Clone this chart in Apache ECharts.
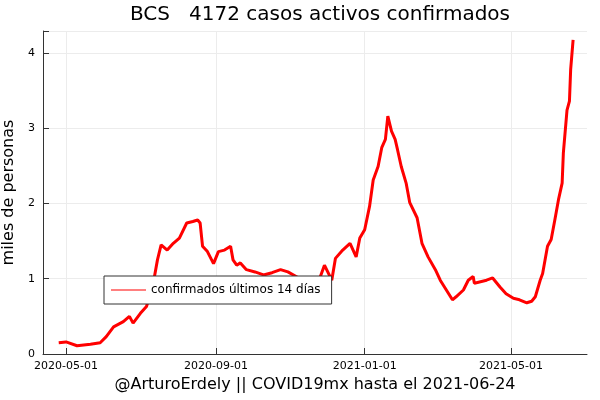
<!DOCTYPE html>
<html>
<head>
    <meta charset="utf-8">
    <title>BCS casos activos</title>
    <script src="https://cdn.jsdelivr.net/npm/echarts@6/dist/echarts.min.js"></script>
    <style>
        body { margin: 0; background: #fff; }
        #main { width: 600px; height: 400px; }
    </style>
</head>
<body>
    <div id="main"></div>
    <script type="text/javascript">
        // dias contados desde 2020-05-01 y casos activos (miles de personas)
        var dias = [-6, 0, 9, 20, 28, 33, 39, 47, 52, 55, 61, 66, 71, 75, 78, 83, 88, 93, 99, 104,
            108, 110, 112, 116, 121, 125, 130, 135, 137, 140, 143, 148, 155, 162, 169, 176, 182, 192,
            200, 208, 212, 218, 221, 227, 233, 238, 241, 245, 249, 252, 256, 259, 262, 264, 267, 270,
            272, 275, 279, 282, 288, 292, 297, 303, 307, 312, 317, 320, 326, 330, 334, 335, 340, 345,
            350, 356, 361, 367, 372, 378, 382, 385, 389, 391, 395, 398, 401, 404, 407, 408, 411, 413,
            414, 416];
        var activos = [0.15, 0.16, 0.11, 0.13, 0.15, 0.23, 0.36, 0.43, 0.50, 0.41, 0.54, 0.63, 0.89, 1.25, 1.45, 1.38, 1.47, 1.54, 1.74, 1.76,
            1.78, 1.74, 1.43, 1.36, 1.20, 1.36, 1.38, 1.43, 1.25, 1.18, 1.21, 1.12, 1.09, 1.05, 1.08, 1.12, 1.09, 1.00,
            0.98, 1.00, 1.18, 0.98, 1.27, 1.38, 1.47, 1.29, 1.54, 1.65, 1.96, 2.31, 2.49, 2.74, 2.85, 3.16, 2.96, 2.85,
            2.71, 2.49, 2.27, 2.01, 1.81, 1.47, 1.29, 1.12, 0.98, 0.85, 0.72, 0.76, 0.85, 0.98, 1.03, 0.94, 0.96, 0.98,
            1.01, 0.89, 0.80, 0.74, 0.72, 0.68, 0.70, 0.76, 0.98, 1.07, 1.43, 1.52, 1.78, 2.05, 2.27, 2.67, 3.24, 3.36,
            3.78, 4.172];
        var fechasTicks = ['2020-05-01', '2020-09-01', '2021-01-01', '2021-05-01'];

        var DIA = 86400000;
        var base = Date.UTC(2020, 4, 1);
        function ts(s) {
            var p = s.split('-');
            return Date.UTC(+p[0], +p[1] - 1, +p[2]);
        }
        function fmt(v) {
            var d = new Date(v);
            var m = d.getUTCMonth() + 1, dd = d.getUTCDate();
            return d.getUTCFullYear() + '-' + (m < 10 ? '0' : '') + m + '-' + (dd < 10 ? '0' : '') + dd;
        }
        var serie = dias.map(function (d, i) { return [base + d * DIA, activos[i]]; });
        var ticks = fechasTicks.map(ts);

        var fuente = 'DejaVu Sans';
        var myChart = echarts.init(document.getElementById('main'));
        myChart.setOption({
            animation: false,
            title: {
                text: 'BCS   4172 casos activos confirmados',
                left: 315,
                top: 0,
                textAlign: 'center',
                textStyle: { fontFamily: fuente, fontSize: 20, fontWeight: 'normal', color: '#000' }
            },
            legend: {
                data: ['confirmados últimos 14 días'],
                left: 104,
                top: 276,
                orient: 'vertical',
                backgroundColor: '#fff',
                borderColor: '#333',
                borderWidth: 1,
                borderRadius: 0,
                padding: [8, 11, 8, 7],
                itemWidth: 35,
                itemHeight: 1,
                icon: 'rect',
                itemGap: 0,
                textStyle: { fontFamily: fuente, fontSize: 12, color: '#000' }
            },
            grid: { left: 43, right: 13, top: 31, bottom: 46, outerBoundsMode: 'none', containLabel: false },
            xAxis: {
                type: 'value',
                min: base - 18.9 * DIA,
                max: base + 427.4 * DIA,
                name: '@ArturoErdely || COVID19mx hasta el 2021-06-24',
                nameLocation: 'middle',
                nameGap: 23,
                nameTextStyle: { fontFamily: fuente, fontSize: 16, color: '#000' },
                axisLine: { lineStyle: { color: '#333', width: 1 } },
                axisTick: { inside: true, length: 6, customValues: ticks, lineStyle: { color: '#333' } },
                axisLabel: {
                    customValues: ticks,
                    formatter: function (v) { return fmt(v); },
                    fontFamily: fuente, fontSize: 11, color: '#000', margin: 7
                },
                splitLine: { show: true, lineStyle: { color: '#ececec', width: 1 } }
            },
            yAxis: {
                type: 'value',
                min: 0,
                max: 4.29,
                interval: 1,
                name: 'miles de personas',
                nameLocation: 'middle',
                nameGap: 23,
                nameTextStyle: { fontFamily: fuente, fontSize: 16, color: '#000' },
                axisLine: { show: true, lineStyle: { color: '#333', width: 1 } },
                axisTick: { show: true, inside: true, length: 6, lineStyle: { color: '#333' } },
                axisLabel: {
                    fontFamily: fuente, fontSize: 11, color: '#000', margin: 8,
                    formatter: function (v) { return v % 1 === 0 ? String(v) : ''; }
                },
                splitLine: { show: true, lineStyle: { color: '#ececec', width: 1 } }
            },
            series: [{
                name: 'confirmados últimos 14 días',
                type: 'line',
                data: serie,
                showSymbol: false,
                color: '#ff0000',
                lineStyle: { color: '#ff0000', width: 3 }
            }]
        });
    </script>
</body>
</html>
